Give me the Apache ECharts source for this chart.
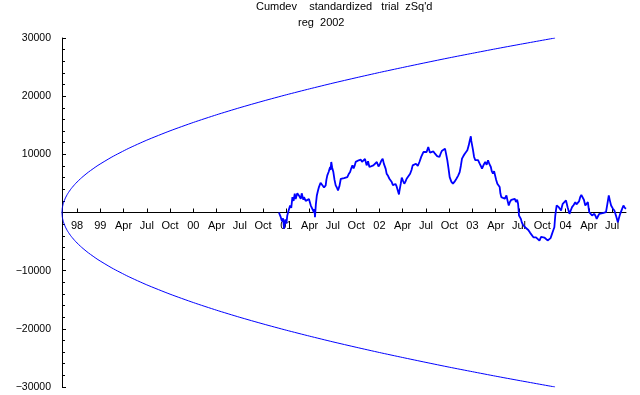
<!DOCTYPE html>
<html>
<head>
<meta charset="utf-8">
<script src="https://cdn.jsdelivr.net/npm/echarts@6/dist/echarts.min.js"></script>
<style>
  html, body { margin: 0; padding: 0; background: #fff; }
  #chart { width: 640px; height: 395px; }
</style>
</head>
<body>
<div id="chart"></div>
<script>
// x unit = quarters, 0 = the "98" tick
const tickLabels = ["98", "99", "Apr", "Jul", "Oct", "00", "Apr", "Jul", "Oct",
  "01", "Apr", "Jul", "Oct", "02", "Apr", "Jul", "Oct",
  "03", "Apr", "Jul", "Oct", "04", "Apr", "Jul"];
const tickPos = tickLabels.map((_, i) => i);

// envelope (upper half, lower is mirrored)
const envX = [-0.645, -0.635, -0.62, -0.58, -0.5, -0.4, -0.25, -0.05, 0.2, 0.49, 0.9,
  1.5, 2.2, 3.0, 4.0, 5.0, 6.0, 7.0, 8.0, 9.0, 10.0,
  11.0, 12.0, 13.0, 14.0, 15.0, 16.0, 17.0, 18.0, 19.0, 20.55];
const envY = [0, 650, 1030, 1660, 2480, 3230, 4100, 5030, 5990, 6940, 8100,
  9540, 10990, 12440, 14040, 15480, 16800, 18020, 19160, 20240, 21260,
  22240, 23170, 24070, 24930, 25770, 26590, 27370, 28140, 28880, 30000];

// cumulative deviation trace
const cumX = [8.68, 8.75, 8.81, 8.86, 8.9, 8.93, 8.96, 9.0, 9.04, 9.1,
  9.16, 9.21, 9.26, 9.31, 9.36, 9.4, 9.44, 9.47, 9.5, 9.56,
  9.62, 9.66, 9.69, 9.73, 9.76, 9.83, 9.9, 9.97, 10.05, 10.12,
  10.19, 10.21, 10.23, 10.27, 10.31, 10.35, 10.4, 10.47, 10.55, 10.62,
  10.69, 10.72, 10.76, 10.82, 10.88, 10.9, 10.93, 10.97, 11.02, 11.07,
  11.12, 11.17, 11.22, 11.28, 11.34, 11.41, 11.48, 11.55, 11.62, 11.68,
  11.74, 11.79, 11.84, 11.89, 11.94, 11.98, 12.02, 12.11, 12.2, 12.25,
  12.31, 12.38, 12.45, 12.51, 12.57, 12.65, 12.74, 12.82, 12.89, 12.96,
  13.03, 13.08, 13.14, 13.19, 13.24, 13.27, 13.31, 13.37, 13.43, 13.48,
  13.53, 13.58, 13.63, 13.69, 13.74, 13.79, 13.84, 13.86, 13.89, 13.92,
  13.96, 14.02, 14.07, 14.12, 14.17, 14.25, 14.32, 14.38, 14.43, 14.5,
  14.57, 14.65, 14.72, 14.8, 14.89, 14.96, 15.03, 15.06, 15.1, 15.17,
  15.25, 15.32, 15.39, 15.48, 15.58, 15.63, 15.68, 15.75, 15.82, 15.87,
  15.92, 15.97, 16.02, 16.09, 16.16, 16.23, 16.31, 16.38, 16.45, 16.5,
  16.55, 16.61, 16.67, 16.72, 16.78, 16.81, 16.84, 16.88, 16.93, 16.95,
  16.98, 17.02, 17.07, 17.12, 17.17, 17.24, 17.31, 17.36, 17.41, 17.48,
  17.55, 17.61, 17.67, 17.73, 17.79, 17.83, 17.88, 17.93, 17.98, 18.02,
  18.07, 18.12, 18.17, 18.2, 18.24, 18.31, 18.39, 18.42, 18.46, 18.51,
  18.56, 18.61, 18.67, 18.74, 18.82, 18.87, 18.92, 18.94, 18.96, 18.98,
  19.0, 19.04, 19.08, 19.12, 19.17, 19.25, 19.33, 19.4, 19.48, 19.55,
  19.62, 19.67, 19.73, 19.8, 19.88, 19.95, 20.02, 20.09, 20.16, 20.23,
  20.31, 20.36, 20.42, 20.47, 20.52, 20.54, 20.56, 20.59, 20.62, 20.66,
  20.71, 20.76, 20.81, 20.84, 20.88, 20.95, 21.02, 21.09, 21.17, 21.22,
  21.28, 21.35, 21.42, 21.47, 21.53, 21.58, 21.63, 21.68, 21.74, 21.79,
  21.85, 21.9, 21.96, 21.99, 22.02, 22.08, 22.14, 22.19, 22.24, 22.29,
  22.34, 22.4, 22.45, 22.52, 22.6, 22.67, 22.74, 22.8, 22.86, 22.91,
  22.96, 23.03, 23.1, 23.18, 23.25, 23.3, 23.35, 23.42, 23.49, 23.55,
  23.6];
const cumY = [0, -700, -1500, -1000, -2760, -1800, -1200, -1900, -500, 400,
  1200, 800, 2640, 2000, 3220, 2300, 2500, 3300, 3620, 2800,
  2360, 3300, 3000, 2200, 2640, 2000, 1780, 2300, 1200, 1000,
  0, 600, -800, 1500, 2930, 3600, 4370, 5100, 4940, 4300,
  4660, 5600, 6380, 7000, 7820, 7300, 8680, 7700, 6950, 5600,
  4660, 4300, 3790, 4500, 5800, 5800, 5920, 5900, 6090, 6600,
  6950, 7600, 8100, 7600, 8100, 8700, 8970, 8970, 9080, 8700,
  8400, 9200, 8100, 8800, 7820, 8100, 8100, 8300, 8680, 7900,
  8390, 8900, 9250, 8400, 8100, 7500, 6670, 6300, 5800, 5900,
  5230, 4700, 4370, 4900, 4480, 3800, 3100, 3700, 4370, 5000,
  5980, 5400, 4940, 5300, 5800, 6000, 6670, 7300, 8100, 8200,
  8390, 8000, 8680, 9600, 10400, 10100, 10400, 10800, 11260, 10300,
  10110, 10500, 10110, 9700, 9540, 10100, 10570, 10300, 10980, 10000,
  8970, 7600, 6090, 5300, 4940, 5300, 5800, 6300, 6950, 8000,
  9250, 9700, 10110, 10300, 10690, 11000, 11550, 12300, 13100, 12300,
  12120, 10800, 9540, 9000, 8680, 9000, 8390, 8000, 7530, 8200,
  8680, 8200, 8970, 8300, 7820, 7100, 6670, 7100, 6780, 5600,
  4940, 4600, 4370, 3300, 2640, 2800, 2360, 2700, 2930, 2000,
  1210, 1800, 2190, 2000, 2360, 1800, 2190, 1900, 1500, 600,
  -520, -700, -1090, -1700, -2100, -2500, -2810, -3000, -3500, -3700,
  -4260, -4000, -4260, -4500, -4830, -4200, -3970, -4300, -4540, -4800,
  -5110, -4400, -3670, -3100, -2530, -1500, -520, 400, 1210, 1000,
  920, 600, 340, 900, 1500, 1700, 2070, 900, -230, 300,
  920, 1300, 1780, 1400, 1210, 1900, 2640, 3000, 3330, 2200,
  1210, 1500, 1780, 900, 60, -200, -520, -300, -230, -600,
  -1090, -600, -230, -100, -120, -20, 60, 1500, 2930, 2000,
  1210, 700, 340, -700, -1670, -900, -230, 500, 1210, 800,
  640];

const blue = '#0000ff';
const font = 'Liberation Sans, Arial, sans-serif';
const titleStyle = { fontSize: 11, fontWeight: 'normal', color: '#000', fontFamily: font };

const chart = echarts.init(document.getElementById('chart'), null, { renderer: 'canvas' });

chart.setOption({
  animation: false,
  backgroundColor: '#fff',
  title: [
    { text: "Cumdev    standardized   trial  zSq'd", left: 256, top: 1, padding: 0, textStyle: titleStyle },
    { text: 'reg  2002', left: 298, top: 17, padding: 0, textStyle: titleStyle }
  ],
  grid: { left: 62, right: 14, top: 38, bottom: 8, containLabel: false, outerBoundsMode: 'none' },
  xAxis: {
    type: 'value',
    min: -0.645,
    max: 23.6,
    offset: -174.5, // put the axis at y = 0
    splitLine: { show: false },
    axisLine: { onZero: false, lineStyle: { color: '#000', width: 1 } },
    axisTick: { inside: true, length: 4, customValues: tickPos, lineStyle: { color: '#000' } },
    axisLabel: {
      customValues: tickPos,
      margin: 8,
      color: '#000',
      fontSize: 11,
      fontFamily: font,
      formatter: v => tickLabels[Math.round(v)] || ''
    }
  },
  yAxis: {
    type: 'value',
    min: -30000,
    max: 30000,
    interval: 10000,
    splitLine: { show: false },
    axisLine: { show: true, onZero: false, lineStyle: { color: '#000', width: 1 } },
    axisTick: { show: true, inside: true, length: 4, lineStyle: { color: '#000' } },
    minorTick: { show: true, splitNumber: 5, length: 3, lineStyle: { color: '#000' } },
    axisLabel: {
      margin: 11,
      color: '#000',
      fontSize: 10.5,
      fontFamily: font,
      formatter: v => v === 0 ? '' : (v < 0 ? '\u2212' + Math.abs(v) : String(v))
    }
  },
  series: [
    {
      type: 'line', name: 'upper', showSymbol: false, smooth: 0.2,
      lineStyle: { color: blue, width: 1 },
      data: envX.map((x, i) => [x, envY[i]])
    },
    {
      type: 'line', name: 'lower', showSymbol: false, smooth: 0.2,
      lineStyle: { color: blue, width: 1 },
      data: envX.map((x, i) => [x, -envY[i]])
    },
    {
      type: 'line', name: 'cumdev', showSymbol: false,
      lineStyle: { color: blue, width: 1.8 },
      data: cumX.map((x, i) => [x, cumY[i]])
    }
  ]
});
</script>
</body>
</html>
